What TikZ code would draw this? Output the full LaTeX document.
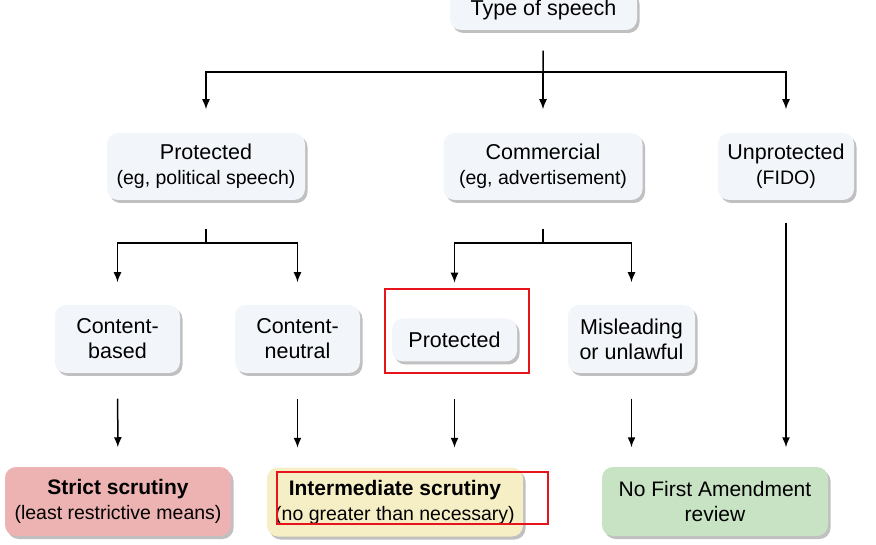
\documentclass[tikz,border=0pt]{standalone}
\usepackage{fontspec}
\setmainfont{Liberation Sans}
\usetikzlibrary{shadows,arrows.meta}

\definecolor{boxgray}{HTML}{F2F5F9}
\definecolor{strictred}{HTML}{EDB2B2}
\definecolor{midyellow}{HTML}{F6EEC4}
\definecolor{reviewgreen}{HTML}{C7E3C3}
\definecolor{markred}{HTML}{E8141C}

\newcommand{\subline}[1]{{\fontsize{19.5}{24}\selectfont #1}}

\tikzset{
	box/.style={rounded corners=11pt, fill=boxgray, inner sep=0pt, align=center,
		font=\fontsize{21.5}{25}\selectfont,
		drop shadow={shadow xshift=2.5pt, shadow yshift=-3pt, opacity=0.45, fill=black!55}},
	result/.style={box, font=\fontsize{21}{25}\selectfont},
	highlight/.style={draw=markred, line width=1.4pt},
}

\begin{document}
\begin{tikzpicture}[x=1pt, y=-1pt, >={Latex[length=10pt,width=8pt]}, line width=1.5pt]
	\useasboundingbox (0,0) rectangle (876,545);

	\node[box, minimum width=187pt, minimum height=40pt] (top) at (543.5, 10) {Type of speech};

	\begin{scope}[every node/.style={box, minimum height=67pt}]
	\node[minimum width=198pt] (2-1) at (206, 166.5) {Protected\\\subline{(eg, political speech)}};
	\node[minimum width=199pt] (2-2) at (543, 166.5) {Commercial\\\subline{(eg, advertisement)}};
	\node[minimum width=136pt] (2-3) at (786, 166.5) {Unprotected\\\subline{(FIDO)}};
	\end{scope}

	\begin{scope}[every node/.style={box, minimum height=68pt}]
	\node[minimum width=125pt] (3-1) at (117.5, 339) {Content-\\based};
	\node[minimum width=125pt] (3-2) at (297.5, 339) {Content-\\neutral};
	\node[minimum width=125pt, minimum height=43pt] (3-3) at (454.5, 340) {Protected};
	\node[minimum width=127pt] (3-4) at (631.5, 339) {Misleading\\or unlawful};
	\end{scope}

	\begin{scope}[every node/.style={result, minimum height=69pt}]
	\node[fill=strictred, minimum width=226pt] (4-1) at (118, 501.5) {\textbf{Strict scrutiny}\\\subline{(least restrictive means)}};
	\node[fill=midyellow, minimum width=256pt] (4-2) at (395, 502) {\textbf{Intermediate scrutiny}\\\subline{(no greater than necessary)}};
	\node[fill=reviewgreen, minimum width=226pt] (4-3) at (715, 501.5) {No First Amendment\\review};
	\end{scope}

	% branch points
	\coordinate (j1) at (543, 72);
	\coordinate (j2) at (206, 243);
	\coordinate (j3) at (543, 243);

	\draw [shorten <=20pt] (top) -- (j1);
	\draw [->, shorten >=23pt] (j1) -| (2-1);
	\draw [->, shorten >=23pt] (j1) -- (2-2);
	\draw [->, shorten >=23pt] (j1) -| (2-3);

	\draw [shorten <=28pt] (2-1) -- (j2);
	\draw [->, shorten >=22pt] (j2) -| (3-1);
	\draw [->, shorten >=22pt] (j2) -| (3-2);

	\draw [shorten <=28pt] (2-2) -- (j3);
	\draw [->, shorten >=35pt] (j3) -| (3-3);
	\draw [->, shorten >=22pt] (j3) -| (3-4);

	\draw [->, shorten <=25pt, shorten >=19pt] (3-1) -- (4-1);
	\draw [->, shorten <=25pt, shorten >=19pt] (3-2) -- (3-2 |- 4-2.north);
	\draw [->, shorten <=37pt, shorten >=19pt] (3-3) -- (3-3 |- 4-2.north);
	\draw [->, shorten <=25pt, shorten >=19pt] (3-4) -- (3-4 |- 4-3.north);
	\draw [->, shorten <=22pt, shorten >=19pt] (2-3) -- (2-3 |- 4-3.north);

	% highlight marks
	\draw [highlight] (385, 289) rectangle (529, 373);
	\draw [highlight] (277, 472) rectangle (548, 524);
\end{tikzpicture}
\end{document}
